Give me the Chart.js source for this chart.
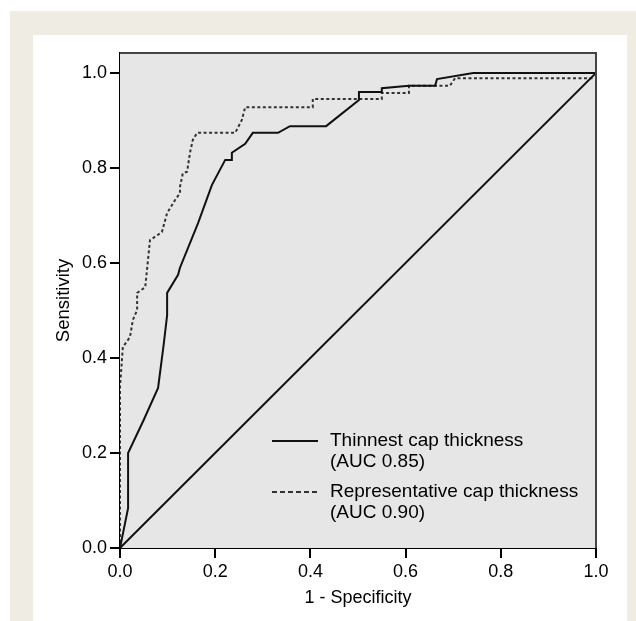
<!DOCTYPE html>
<html>
<head>
<meta charset="utf-8">
<script src="https://cdn.jsdelivr.net/npm/chart.js@4.4.1/dist/chart.umd.min.js"></script>
<style>
  html, body { margin: 0; padding: 0; background: #fff; }
  #frame { position: absolute; left: 10px; top: 11px; right: 0; bottom: 0; background: #efece3; }
  #panel { position: absolute; left: 33px; top: 35px; width: 594px; bottom: 0; background: #fff; }
  #wrap { position: absolute; left: 0; top: 0; width: 636px; height: 621px; }
</style>
</head>
<body>
<div id="frame"></div>
<div id="panel"></div>
<div id="wrap"><canvas id="roc" width="636" height="621"></canvas></div>
<script>
// ROC curves, points (1 - specificity, sensitivity)
const thinnestFpr = [0, 0.017, 0.017, 0.050, 0.080, 0.092, 0.099, 0.099, 0.122, 0.126, 0.164, 0.193, 0.221, 0.235, 0.235, 0.263, 0.279, 0.332, 0.357, 0.433, 0.502, 0.502, 0.550, 0.550, 0.607, 0.662, 0.666, 0.742, 1.0];
const thinnestTpr = [0, 0.084, 0.200, 0.270, 0.337, 0.430, 0.490, 0.537, 0.575, 0.590, 0.684, 0.764, 0.817, 0.817, 0.832, 0.851, 0.874, 0.874, 0.888, 0.888, 0.943, 0.960, 0.960, 0.968, 0.973, 0.973, 0.987, 1.0, 1.0];

const representativeFpr = [0, 0, 0.006, 0.021, 0.027, 0.036, 0.036, 0.053, 0.063, 0.088, 0.099, 0.116, 0.126, 0.126, 0.132, 0.141, 0.147, 0.153, 0.162, 0.242, 0.256, 0.263, 0.405, 0.405, 0.550, 0.550, 0.607, 0.607, 0.693, 0.704, 1.0, 1.0];
const representativeTpr = [0, 0.339, 0.423, 0.444, 0.480, 0.501, 0.537, 0.549, 0.648, 0.665, 0.705, 0.733, 0.747, 0.760, 0.789, 0.792, 0.832, 0.859, 0.874, 0.874, 0.901, 0.928, 0.928, 0.945, 0.945, 0.958, 0.958, 0.973, 0.973, 0.989, 0.989, 1.0];

const chanceFpr = [0, 1];
const chanceTpr = [0, 1];

const seriesNames = ['Thinnest cap thickness', 'Representative cap thickness'];
const aucLabels = ['(AUC 0.85)', '(AUC 0.90)'];

const xTickValues = [0, 0.2, 0.4, 0.6, 0.8, 1.0];
const yTickValues = [0, 0.2, 0.4, 0.6, 0.8, 1.0];

const xTitle = '1 - Specificity';
const yTitle = 'Sensitivity';

const FONT = "Arial, 'Liberation Sans', Helvetica, sans-serif";

function toPoints(xs, ys) {
    return xs.map((x, i) => ({ x: x, y: ys[i] }));
}

// grey plot area plus the thin frame on top and right
const plotFrame = {
    id: 'plotFrame',
    beforeDatasetsDraw(chart) {
        const { ctx, chartArea: a } = chart;
        ctx.save();
        ctx.fillStyle = '#e6e6e6';
        ctx.fillRect(a.left, a.top, a.right - a.left, a.bottom - a.top);
        ctx.restore();
    },
    afterDraw(chart) {
        const { ctx, chartArea: a } = chart;
        ctx.save();
        ctx.strokeStyle = '#444';
        ctx.lineWidth = 2;
        ctx.beginPath();
        ctx.moveTo(a.left, a.top);
        ctx.lineTo(a.right, a.top);
        ctx.lineTo(a.right, a.bottom);
        ctx.stroke();
        ctx.restore();
    }
};

// legend inside the plot, two lines of text per entry
const rocLegend = {
    id: 'rocLegend',
    afterDatasetsDraw(chart) {
        const { ctx, chartArea: a } = chart;
        const rows = [a.bottom - 107, a.bottom - 56];
        const x0 = a.left + 152, x1 = a.left + 198, tx = a.left + 210;
        ctx.save();
        ctx.font = '19px ' + FONT;
        ctx.fillStyle = '#000';
        ctx.textBaseline = 'middle';
        rows.forEach((y, i) => {
            ctx.strokeStyle = i === 0 ? '#111' : '#333';
            ctx.lineWidth = 2;
            ctx.setLineDash(i === 0 ? [] : [5, 3]);
            ctx.beginPath();
            ctx.moveTo(x0, y);
            ctx.lineTo(x1, y);
            ctx.stroke();
            ctx.fillText(seriesNames[i], tx, y);
            ctx.fillText(aucLabels[i], tx, y + 21);
        });
        ctx.restore();
    }
};

const ctx = document.getElementById('roc').getContext('2d');
const rocChart = new Chart(ctx, {
    type: 'line',
    data: {
        datasets: [{
            label: 'Reference',
            data: toPoints(chanceFpr, chanceTpr),
            borderColor: '#111',
            borderWidth: 2,
            pointRadius: 0
        }, {
            label: seriesNames[0],
            data: toPoints(thinnestFpr, thinnestTpr),
            borderColor: '#111',
            borderWidth: 2,
            pointRadius: 0
        }, {
            label: seriesNames[1],
            data: toPoints(representativeFpr, representativeTpr),
            borderColor: '#333',
            borderWidth: 2,
            borderDash: [3, 2.5],
            pointRadius: 0
        }]
    },
    options: {
        responsive: false,
        animation: false,
        devicePixelRatio: 1,
        layout: { padding: { left: 50, right: 40, top: 53, bottom: 10 } },
        elements: { line: { tension: 0 } },
        plugins: {
            legend: { display: false },
            tooltip: { enabled: false }
        },
        scales: {
            x: {
                type: 'linear',
                min: 0,
                max: 1,
                afterFit: (s) => { s.height = 63; },
                afterBuildTicks: (s) => { s.ticks = xTickValues.map(v => ({ value: v })); },
                border: { display: true, color: '#000', width: 2 },
                grid: { drawOnChartArea: false, tickLength: 10, tickColor: '#000', tickWidth: 2, lineWidth: 2 },
                ticks: {
                    padding: 3,
                    color: '#000',
                    font: { family: FONT, size: 18 },
                    maxRotation: 0,
                    autoSkip: false,
                    callback: (v) => Number(v).toFixed(1)
                },
                title: {
                    display: true,
                    text: xTitle,
                    color: '#000',
                    font: { family: FONT, size: 18 },
                    padding: { top: 0, bottom: 2 }
                }
            },
            y: {
                type: 'linear',
                min: 0,
                max: 1.042,
                afterFit: (s) => { s.width = 70; },
                afterBuildTicks: (s) => { s.ticks = yTickValues.map(v => ({ value: v })); },
                border: { display: true, color: '#000', width: 2 },
                grid: { drawOnChartArea: false, tickLength: 10, tickColor: '#000', tickWidth: 2, lineWidth: 2 },
                ticks: {
                    padding: 3,
                    color: '#000',
                    font: { family: FONT, size: 18 },
                    autoSkip: false,
                    callback: (v) => Number(v).toFixed(1)
                },
                title: {
                    display: true,
                    text: yTitle,
                    color: '#000',
                    font: { family: FONT, size: 18.5 },
                    padding: { top: 3, bottom: 0 }
                }
            }
        }
    },
    plugins: [plotFrame, rocLegend]
});
</script>
</body>
</html>
